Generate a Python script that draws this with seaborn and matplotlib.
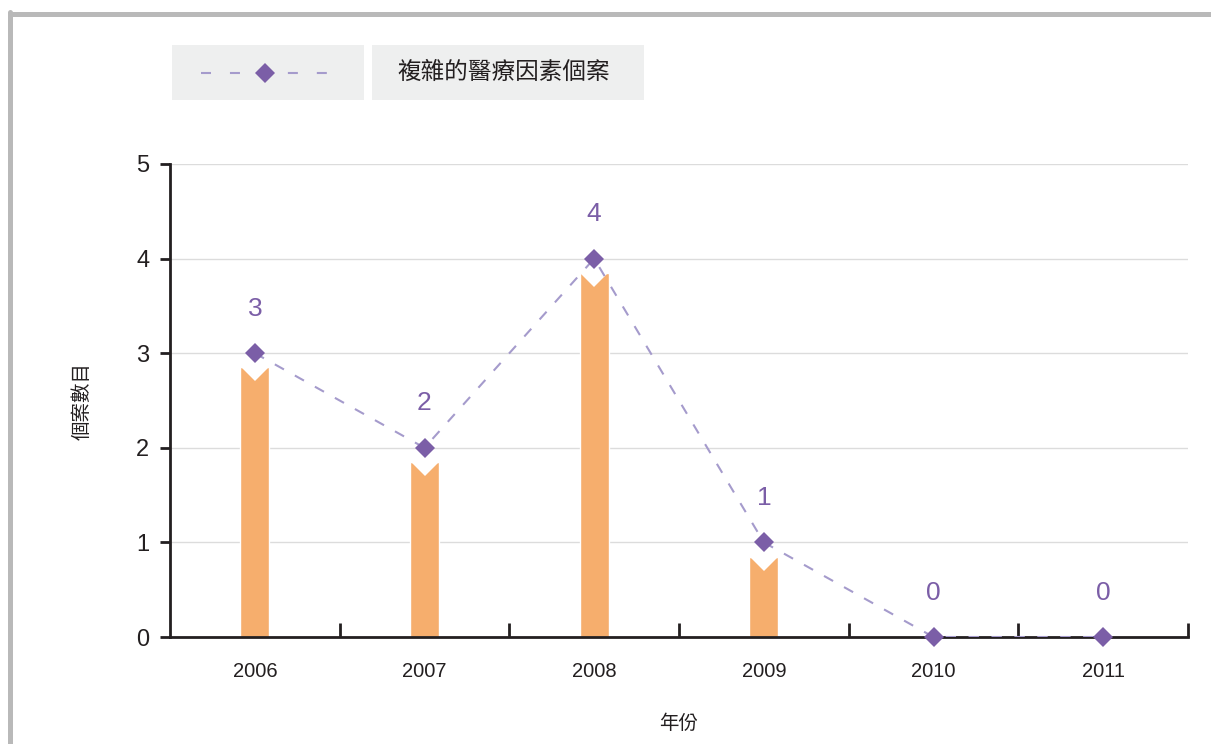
import matplotlib
matplotlib.use("Agg")
import matplotlib.pyplot as plt
import seaborn as sns
import pandas as pd
from matplotlib.patches import Rectangle
from matplotlib.lines import Line2D

# data
years = ["2006", "2007", "2008", "2009", "2010", "2011"]
cases = [3, 2, 4, 1, 0, 0]
series_name = "複雜的醫療因素個案"
x_label = "年份"
y_label = "個案數目"

bar_color = "#f6ae6d"
marker_color = "#7b5ea7"
line_color = "#a59bcc"
axis_color = "#231f20"

sns.set_theme(style="white")
plt.rcParams["font.family"] = ["Liberation Sans", "Noto Sans CJK TC", "DejaVu Sans"]

df = pd.DataFrame({"year": years, "cases": cases})
df["pos"] = range(len(df))

W, H = 1211, 744
fig = plt.figure(figsize=(W / 100, H / 100), dpi=100)
ax = fig.add_axes([170 / W, 1 - 637 / H, (1188 - 170) / W, (637 - 164) / H])

# bars stop a bit below the value, with a white notch under the diamond
bar_gap = 0.15
bar_df = df.assign(top=(df["cases"] - bar_gap).clip(lower=0))
sns.barplot(data=bar_df, x="pos", y="top", color=bar_color, saturation=1,
            width=0.17, ax=ax, zorder=2, native_scale=True)
bars = [p for p in ax.patches]
for patch, row in zip(bars, bar_df.itertuples()):
    if row.top <= 0:
        continue
    (notch,) = ax.plot([row.pos], [row.top], marker="D", markersize=14.3,
                       color="white", markeredgewidth=0, linestyle="none", zorder=2.5)
    notch.set_clip_path(patch)

sns.lineplot(data=df, x="pos", y="cases", ax=ax, color=line_color,
             linestyle=(0, (5, 6)), linewidth=1.5, zorder=3)
ax.plot(df["pos"], df["cases"], marker="D", markersize=10.2, color=marker_color,
        linestyle="none", markeredgewidth=0, zorder=4, clip_on=False)

for row in df.itertuples():
    ax.text(row.pos, row.cases + 0.47, str(row.cases), ha="center", va="center",
            fontsize=19, color=marker_color, zorder=5)

ax.set_xlim(-0.5, len(years) - 0.5)
ax.set_ylim(0, 5)
ax.set_yticks(range(6))
ax.set_yticklabels([str(v) for v in range(6)], fontsize=17, color=axis_color)
ax.yaxis.grid(True, color="#dcdcdc", linewidth=1, zorder=0)
ax.set_axisbelow(True)

# category labels centred, tick marks at boundaries
ax.set_xticks(df["pos"])
ax.set_xticklabels(years, fontsize=14.5, color=axis_color)
ax.tick_params(axis="x", which="major", length=0, pad=18)
ax.set_xticks([p + 0.5 for p in df["pos"]], minor=True)
ax.tick_params(axis="x", which="minor", direction="in", length=10, width=2,
               color=axis_color, bottom=True)
ax.tick_params(axis="y", direction="out", length=7, width=2, color=axis_color, pad=8, left=True)

for side in ["top", "right"]:
    ax.spines[side].set_visible(False)
for side in ["left", "bottom"]:
    ax.spines[side].set_color(axis_color)
    ax.spines[side].set_linewidth(2)

ax.set_xlabel(x_label, fontsize=14, color=axis_color, labelpad=24)
ax.set_ylabel(y_label, fontsize=14, color=axis_color, labelpad=32)

# legend: two grey boxes
fig.add_artist(Rectangle((172 / W, 1 - 100 / H), (364 - 172) / W, 55 / H,
                         transform=fig.transFigure, facecolor="#eeefef", edgecolor="none"))
fig.add_artist(Rectangle((372 / W, 1 - 100 / H), (644 - 372) / W, 55 / H,
                         transform=fig.transFigure, facecolor="#eeefef", edgecolor="none"))
fig.add_artist(Line2D([201 / W, 330 / W], [1 - 73 / H] * 2, transform=fig.transFigure,
                      color=line_color, linestyle=(0, (4.8, 9.1)), linewidth=1.5))
fig.add_artist(Line2D([265 / W], [1 - 73 / H], transform=fig.transFigure, marker="D",
                      markersize=10.2, color=marker_color, markeredgewidth=0, linestyle="none"))
fig.text(397 / W, 1 - 73 / H, series_name, fontsize=17, color=axis_color, va="center", ha="left")

# page border
fig.add_artist(Line2D([10.5 / W, 1], [1 - 13.5 / H] * 2, transform=fig.transFigure,
                      color="#b9b9b9", linewidth=3.6))
fig.add_artist(Line2D([10.5 / W] * 2, [0, 1 - 11.7 / H], transform=fig.transFigure,
                      color="#b9b9b9", linewidth=3.6))

fig.savefig("out.png", dpi=100)
